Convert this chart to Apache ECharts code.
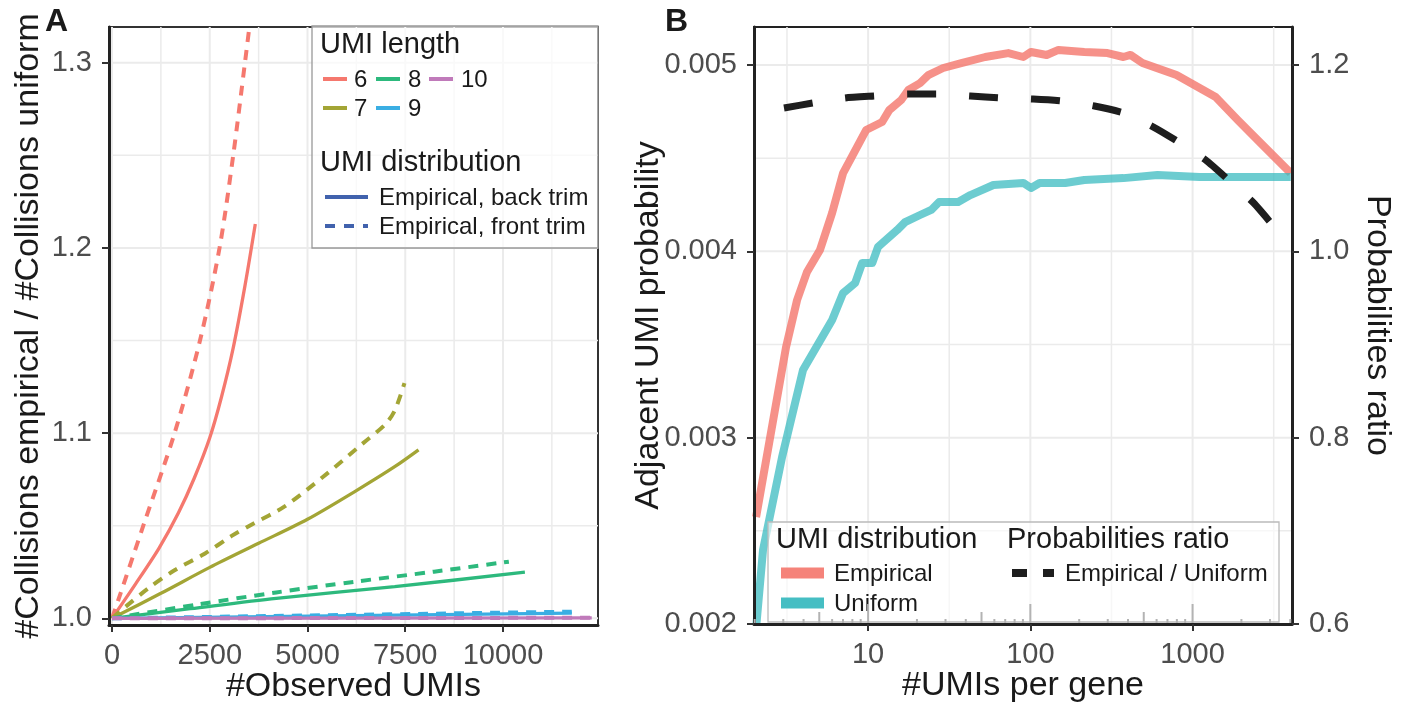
<!DOCTYPE html>
<html lang="en">
<head>
    <meta charset="utf-8"/>
    <title>UMI collisions</title>
    <script src="https://cdn.jsdelivr.net/npm/echarts@6.0.0/dist/echarts.min.js"></script>
    <style>
        html, body { margin: 0; padding: 0; background: #fff; }
        #chart { width: 1406px; height: 702px; }
    </style>
</head>
<body>
<div id="chart"></div>
<script type="text/javascript">
    // ---- panel A : collisions ratio vs observed UMIs ----
    var umiLengths = ['6', '7', '8', '9', '10'];
    var lengthColors = ['#F5786E', '#A3A535', '#2DB97D', '#3AAEE3', '#C07ABA'];

    var back6X = [0, 600, 1200, 1700, 2100, 2500, 2800, 3100, 3400, 3665];
    var back6Y = [1.0, 1.0185, 1.0378, 1.057, 1.0755, 1.0975, 1.1195, 1.146, 1.1795, 1.2129];
    var front6X = [0, 161, 800, 1600, 2250, 2750, 3100, 3400, 3500];
    var front6Y = [1.0, 1.0099, 1.05, 1.10, 1.15, 1.20, 1.25, 1.30, 1.317];
    var back7X = [0, 1250, 2500, 3750, 5000, 6250, 7230, 7840];
    var back7Y = [1.0, 1.0135, 1.0275, 1.0405, 1.0535, 1.0690, 1.0819, 1.091];
    var front7X = [0, 350, 930, 1610, 2380, 3060, 3600, 4406, 5515, 6424, 7000, 7240, 7480];
    var front7Y = [1.0, 1.0063, 1.0162, 1.0261, 1.035, 1.0445, 1.051, 1.0603, 1.0784, 1.0946, 1.105, 1.1126, 1.127];
    var back8X = [0, 2000, 4200, 7230, 10560];
    var back8Y = [1.0, 1.0052, 1.0108, 1.0171, 1.0249];
    var front8X = [0, 2190, 4200, 6220, 8240, 10150];
    var front8Y = [1.0, 1.0075, 1.0140, 1.0198, 1.0252, 1.0306];
    var back9X = [0, 11760];
    var back9Y = [1.0, 1.0028];
    var front9X = [0, 11760];
    var front9Y = [1.0, 1.0036];
    var back10X = [0, 12270];
    var back10Y = [1.0, 1.0003];
    var front10X = [0, 12270];
    var front10Y = [1.0, 1.0003];

    var aTicksX = [0, 2500, 5000, 7500, 10000];
    var aMinorX = [1250, 3750, 6250, 8750, 11250];
    var aTicksY = [1.0, 1.1, 1.2, 1.3];
    var aMinorY = [1.05, 1.15, 1.25];

    // ---- panel B : adjacent UMI probability vs UMIs per gene ----
    var empX = [2.04, 3.12, 3.65, 4.2, 5.05, 6.0, 7.01, 9.72, 12.2, 13.5, 16.0, 17.7, 20.9, 23.5, 29.0, 38.0, 52.7, 73.1, 90.5, 101, 126, 149, 215, 299, 375, 414, 491, 796, 1387, 1897, 2630, 4027];
    var empY = [0.002574, 0.003486, 0.003739, 0.003889, 0.004007, 0.004206, 0.00442, 0.004651, 0.004694, 0.004758, 0.004812, 0.004866, 0.004903, 0.004946, 0.004984, 0.005011, 0.005043, 0.005064, 0.005043, 0.00507, 0.005054, 0.005081, 0.00507, 0.005064, 0.005043, 0.005054, 0.005011, 0.004946, 0.004828, 0.004705, 0.004581, 0.00442];
    var uniX = [2.05, 2.25, 2.95, 3.97, 6.0, 7.01, 8.32, 9.19, 10.6, 11.5, 15.1, 16.9, 20.9, 24.5, 27.4, 35.9, 42.7, 59.2, 90.5, 101, 114, 164, 215, 375, 608, 1104, 4027];
    var uniY = [0.002, 0.002397, 0.002896, 0.003363, 0.003631, 0.003776, 0.00383, 0.003937, 0.003937, 0.004023, 0.004114, 0.004157, 0.004195, 0.004222, 0.004265, 0.004265, 0.004302, 0.004356, 0.004367, 0.00434, 0.004367, 0.004367, 0.004383, 0.004393, 0.00441, 0.004399, 0.004399];
    var ratioX = [3.03, 4.57, 7.21, 10.9, 17.7, 26.7, 42.7, 65.3, 104, 155, 248, 375, 574, 820, 1203, 1667, 2381, 3119];
    var ratioY = [1.1538, 1.1592, 1.1646, 1.1667, 1.1689, 1.1689, 1.1667, 1.1646, 1.1635, 1.1614, 1.156, 1.1485, 1.1334, 1.1173, 1.098, 1.0765, 1.0519, 1.0282];

    var bTicksX = [10, 100, 1000];
    var bMinorX = [3.162, 31.62, 316.2, 3162];
    var bTicksY = [0.002, 0.003, 0.004, 0.005];
    var bMinorY = [0.0025, 0.0035, 0.0045];
    var bTicksRatio = [0.6, 0.8, 1.0, 1.2];
    var logTicks = [2, 3, 4, 5, 6, 7, 8, 9, 10, 20, 30, 40, 50, 60, 70, 80, 90, 100,
        200, 300, 400, 500, 600, 700, 800, 900, 1000, 2000, 3000, 4000];

    var font = '"Liberation Sans", Arial, Helvetica, sans-serif';
    var aRangeX = [-77, 12430], aRangeY = [0.9964, 1.3193];
    var bRangeX = [1.98, 4100], bRangeY = [0.002, 0.005204], bRangeR = [0.6, 1.2408];

    function zip(xs, ys) {
        return xs.map(function (x, i) { return [x, ys[i]]; });
    }

    function gridSeries(xi, yi, values, vertical, xr, yr, width) {
        return {
            type: 'custom', xAxisIndex: xi, yAxisIndex: yi, z: 1, silent: true,
            data: values.map(function (v) { return vertical ? [v, yr[0]] : [xr[0], v]; }),
            renderItem: function (params, api) {
                var v = api.value(vertical ? 0 : 1);
                var a = vertical ? api.coord([v, yr[0]]) : api.coord([xr[0], v]);
                var b = vertical ? api.coord([v, yr[1]]) : api.coord([xr[1], v]);
                return {
                    type: 'line',
                    shape: {x1: a[0], y1: a[1], x2: b[0], y2: b[1]},
                    style: {stroke: '#EBEBEB', lineWidth: width}
                };
            }
        };
    }

    function axisCommon(ticks, fmt) {
        return {
            axisLine: {show: true, onZero: false, lineStyle: {color: '#222', width: 3}},
            axisTick: {show: true, length: 7, customValues: ticks, lineStyle: {color: '#333', width: 2}},
            axisLabel: {customValues: ticks, formatter: fmt, color: '#4D4D4D', fontSize: 29, fontFamily: font},
            splitLine: {show: false},
            nameLocation: 'middle',
            nameMoveOverlap: false,
            nameTextStyle: {fontSize: 34, color: '#1A1A1A', fontFamily: font},
            z: 10
        };
    }

    function merge(a, b) {
        for (var k in b) a[k] = b[k];
        return a;
    }

    var chart = echarts.init(document.getElementById('chart'), null, {renderer: 'canvas'});

    var series = [];
    // gridlines
    series.push(gridSeries(0, 0, aMinorX, true, aRangeX, aRangeY, 1.5));
    series.push(gridSeries(0, 0, aMinorY, false, aRangeX, aRangeY, 1.5));
    series.push(gridSeries(0, 0, aTicksX, true, aRangeX, aRangeY, 2));
    series.push(gridSeries(0, 0, aTicksY, false, aRangeX, aRangeY, 2));
    series.push(gridSeries(1, 1, bMinorX, true, bRangeX, bRangeY, 1.5));
    series.push(gridSeries(1, 1, bMinorY, false, bRangeX, bRangeY, 1.5));
    series.push(gridSeries(1, 1, bTicksX, true, bRangeX, bRangeY, 2));
    series.push(gridSeries(1, 1, bTicksY, false, bRangeX, bRangeY, 2));

    // panel A lines
    var backSets = [[back6X, back6Y], [back7X, back7Y], [back8X, back8Y], [back9X, back9Y], [back10X, back10Y]];
    var frontSets = [[front6X, front6Y], [front7X, front7Y], [front8X, front8Y], [front9X, front9Y], [front10X, front10Y]];
    umiLengths.forEach(function (len, i) {
        series.push({
            name: len + ' back', type: 'line', xAxisIndex: 0, yAxisIndex: 0,
            data: zip(backSets[i][0], backSets[i][1]), showSymbol: false, smooth: 0.3,
            lineStyle: {color: lengthColors[i], width: 3.3}, z: 3
        });
        series.push({
            name: len + ' front', type: 'line', xAxisIndex: 0, yAxisIndex: 0,
            data: zip(frontSets[i][0], frontSets[i][1]), showSymbol: false, smooth: 0.3,
            lineStyle: {color: lengthColors[i], width: 4, type: [10, 8]}, z: 3
        });
    });

    // panel B lines
    series.push({
        name: 'Empirical', type: 'line', xAxisIndex: 1, yAxisIndex: 1, data: zip(empX, empY),
        showSymbol: false, lineStyle: {color: '#F4756B', width: 8, opacity: 0.8, join: 'round'}, z: 3
    });
    series.push({
        name: 'Uniform', type: 'line', xAxisIndex: 1, yAxisIndex: 1, data: zip(uniX, uniY),
        showSymbol: false, lineStyle: {color: '#3BBBC0', width: 8, opacity: 0.75, join: 'round'}, z: 3
    });
    series.push({
        name: 'Empirical / Uniform', type: 'line', xAxisIndex: 1, yAxisIndex: 2, data: zip(ratioX, ratioY),
        showSymbol: false, smooth: 0.2, lineStyle: {color: '#1E1E1E', width: 7, type: [29, 33]}, z: 4
    });

    // log ticks along the bottom of panel B
    series.push({
        type: 'custom', xAxisIndex: 1, yAxisIndex: 1, z: 60, silent: true,
        data: logTicks.map(function (v) { return [v, bRangeY[0]]; }),
        renderItem: function (params, api) {
            var v = api.value(0);
            var m = Math.round(v / Math.pow(10, Math.floor(Math.log10(v) + 1e-9)));
            var len = m === 1 ? 20 : (m === 5 ? 12 : 5);
            var p = api.coord([v, bRangeY[0]]);
            return {
                type: 'line',
                shape: {x1: p[0], y1: p[1] - 1, x2: p[0], y2: p[1] - len},
                style: {stroke: '#B3B3B3', lineWidth: 2}
            };
        }
    });

    function txt(x, y, s, size, extra) {
        return merge({
            type: 'text', x: x, y: y, z: 50, silent: true,
            style: {text: s, fill: '#1A1A1A', font: (size || 24) + 'px ' + font, verticalAlign: 'middle', align: 'left'}
        }, extra || {});
    }

    function key(x1, x2, y, color, width, dash, opacity) {
        return {
            type: 'line', z: 50, silent: true,
            shape: {x1: x1, y1: y, x2: x2, y2: y},
            style: {stroke: color, lineWidth: width, lineDash: dash || null, opacity: opacity == null ? 1 : opacity}
        };
    }

    var legendA = [
        {type: 'rect', z: 49, silent: true, shape: {x: 312, y: 26, width: 286, height: 222},
            style: {fill: 'rgba(255,255,255,0.7)', stroke: '#999', lineWidth: 1.3}},
        txt(320, 45, 'UMI length', 29),
        key(323, 347, 79, lengthColors[0], 4), txt(354, 80, '6'),
        key(376, 400, 79, lengthColors[2], 4), txt(408, 80, '8'),
        key(429, 453, 79, lengthColors[4], 4), txt(461, 80, '10'),
        key(323, 347, 108, lengthColors[1], 4), txt(354, 109, '7'),
        key(376, 400, 108, lengthColors[3], 4), txt(408, 109, '9'),
        txt(320, 163, 'UMI distribution', 29),
        key(325, 368, 197, '#4162AD', 4), txt(379, 198, 'Empirical, back trim'),
        key(325, 368, 226, '#4162AD', 4, [10, 9]), txt(379, 227, 'Empirical, front trim')
    ];
    var legendB = [
        {type: 'rect', z: 49, silent: true, shape: {x: 768, y: 522, width: 511, height: 100},
            style: {fill: 'rgba(255,255,255,0.6)', stroke: '#BBB', lineWidth: 1.3}},
        txt(776, 540, 'UMI distribution', 29),
        txt(1007, 540, 'Probabilities ratio', 29),
        key(781, 824, 573, '#F4756B', 11, null, 0.9), txt(834, 574, 'Empirical'),
        key(781, 824, 603, '#3BBBC0', 11, null, 0.95), txt(834, 604, 'Uniform'),
        key(1012, 1054, 573, '#1E1E1E', 8, [15, 16]), txt(1065, 574, 'Empirical / Uniform')
    ];
    var letters = [
        txt(45, 22, 'A', 32, {style: {text: 'A', fill: '#1A1A1A', font: 'bold 32px ' + font, verticalAlign: 'middle'}}),
        txt(665, 22, 'B', 32, {style: {text: 'B', fill: '#1A1A1A', font: 'bold 32px ' + font, verticalAlign: 'middle'}})
    ];

    var option = {
        animation: false,
        backgroundColor: '#fff',
        grid: [
            {left: 109, top: 27, width: 489, height: 598, show: true, borderColor: '#333', borderWidth: 2,
                backgroundColor: '#fff', containLabel: false, outerBoundsMode: 'none'},
            {left: 754, top: 27, width: 538, height: 597, show: true, borderColor: '#222', borderWidth: 2,
                backgroundColor: '#fff', containLabel: false, outerBoundsMode: 'none'}
        ],
        xAxis: [
            merge(axisCommon(aTicksX, function (v) { return String(Math.round(v)); }), {
                gridIndex: 0, type: 'value', min: aRangeX[0], max: aRangeX[1], position: 'bottom',
                name: '#Observed UMIs', nameGap: 45
            }),
            merge(axisCommon(bTicksX, function (v) { return String(Math.round(v)); }), {
                gridIndex: 1, type: 'log', logBase: 10, min: bRangeX[0], max: bRangeX[1], position: 'bottom',
                name: '#UMIs per gene', nameGap: 45
            })
        ],
        yAxis: [
            merge(axisCommon(aTicksY, function (v) { return v.toFixed(1); }), {
                gridIndex: 0, type: 'value', min: aRangeY[0], max: aRangeY[1], position: 'left',
                name: '#Collisions empirical / #Collisions uniform', nameGap: 63
            }),
            merge(axisCommon(bTicksY, function (v) { return v.toFixed(3); }), {
                gridIndex: 1, type: 'value', min: bRangeY[0], max: bRangeY[1], position: 'left',
                name: 'Adjacent UMI probability', nameGap: 88
            }),
            merge(axisCommon(bTicksRatio, function (v) { return v.toFixed(1); }), {
                gridIndex: 1, type: 'value', min: bRangeR[0], max: bRangeR[1], position: 'right',
                name: 'Probabilities ratio', nameGap: 68, nameRotate: -90
            })
        ],
        graphic: {elements: legendA.concat(legendB, letters)},
        series: series
    };

    option.xAxis.forEach(function (a) { a.axisLabel.margin = 16; });
    option.yAxis.forEach(function (a) { a.axisLabel.margin = 17; });

    chart.setOption(option);
</script>
</body>
</html>
